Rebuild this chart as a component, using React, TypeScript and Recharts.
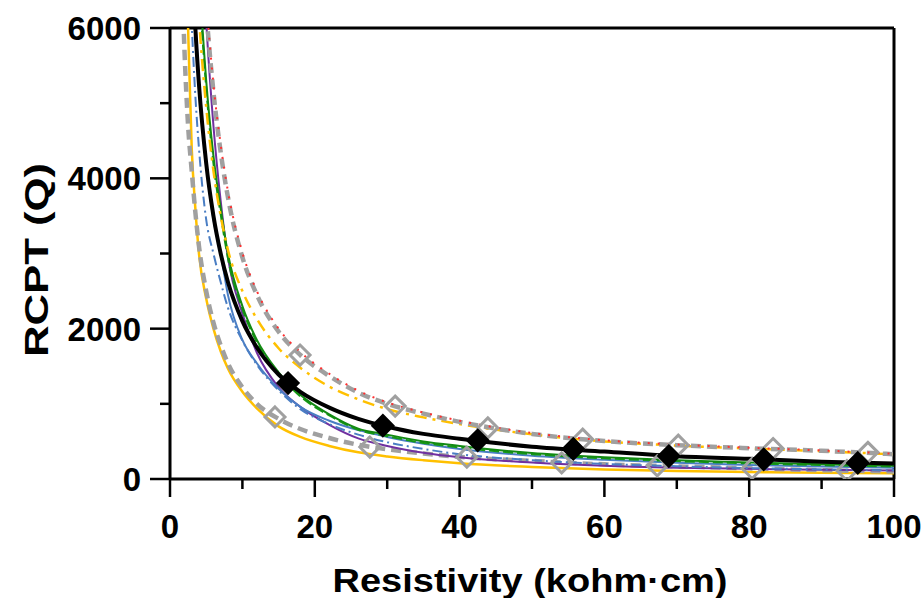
import React from "react";
import {
  ComposedChart, Line, Scatter, XAxis, YAxis, ReferenceLine,
} from "recharts";

// sample positions (kohm·cm) shared by every fitted curve
const curveX = [1.5, 2, 2.5, 3, 3.5, 4, 5, 6, 7, 8, 10, 12, 15, 18, 22, 26, 30, 35, 40, 50, 60, 70, 80, 90, 100];

// RCPT (Q) at curveX
const upperGray = [20000, 15500, 12400, 10400, 8900, 7800, 6250, 5150, 4350, 3750, 2950, 2450, 1960, 1650, 1370, 1150, 1000, 870, 760, 600, 505, 450, 410, 375, 330];
const redDot = [20500, 15800, 12700, 10600, 9100, 7950, 6400, 5250, 4450, 3830, 3010, 2500, 2000, 1690, 1400, 1175, 1020, 885, 775, 612, 515, 458, 416, 380, 336];
const orangeDashDot = [16000, 12000, 9700, 8100, 7000, 6150, 4950, 4100, 3500, 3050, 2500, 2130, 1740, 1480, 1230, 1060, 930, 820, 730, 595, 500, 445, 405, 370, 328];
const blackFit = [14000, 10500, 8400, 7000, 6000, 5250, 4200, 3500, 3000, 2620, 2100, 1750, 1390, 1160, 950, 800, 695, 600, 535, 430, 365, 302, 268, 230, 205];
const greenSolid = [20000, 14500, 11200, 9200, 7800, 6800, 5300, 4300, 3600, 3000, 2300, 1850, 1420, 1120, 860, 670, 590, 500, 440, 345, 290, 250, 220, 195, 175];
const greenDash = [19000, 14000, 10900, 9000, 7650, 6650, 5200, 4200, 3520, 2940, 2260, 1820, 1400, 1100, 845, 655, 570, 480, 420, 330, 275, 238, 208, 185, 165];
const blueSolid = [14500, 10800, 8600, 7100, 6100, 5300, 4200, 3450, 3000, 2450, 1850, 1540, 1200, 960, 775, 650, 560, 470, 400, 310, 255, 215, 185, 165, 150];
const blueDashDot = [12000, 9000, 7200, 6050, 5100, 4400, 3450, 3000, 2620, 2280, 1840, 1520, 1180, 930, 730, 590, 490, 400, 330, 250, 200, 170, 145, 128, 115];
const purpleSolid = [26000, 19000, 14500, 11800, 9800, 8300, 6100, 4700, 3700, 2950, 2200, 1680, 1220, 960, 720, 540, 440, 350, 290, 220, 175, 150, 135, 122, 112];
const yellowSolid = [11000, 7800, 6000, 4400, 3600, 3000, 2400, 2000, 1700, 1470, 1160, 940, 700, 560, 440, 355, 300, 250, 210, 160, 125, 105, 92, 82, 75];
const lowerGray = [7200, 5700, 4700, 4100, 3550, 3100, 2500, 2080, 1780, 1540, 1220, 1000, 800, 665, 545, 455, 395, 340, 295, 240, 195, 168, 142, 118, 100];

// marker positions
const upperMarkX = [17.96, 31.1, 43.9, 57, 70.2, 83.3, 96.4];
const upperMarkY = [1649, 970, 680, 530, 450, 405, 355];
const blackMarkX = [16.3, 29.4, 42.5, 55.7, 68.9, 82, 95];
const blackMarkY = [1277, 710, 515, 400, 305, 262, 213];
const lowerMarkX = [14.5, 27.6, 41, 54.1, 67.3, 80.4, 93.5];
const lowerMarkY = [825, 425, 290, 215, 175, 140, 110];

const yTicks = [0, 1000, 2000, 3000, 4000, 5000, 6000];
const xTicks = [0, 10, 20, 30, 40, 50, 60, 70, 80, 90, 100];

const pts = (xs: number[], ys: number[]) => xs.map((x, i) => ({ x, y: ys[i] }));

const FONT = "'Liberation Sans', Arial, sans-serif";

const YTick = (props: any) => {
  const { x, y, payload } = props;
  const major = payload.value % 2000 === 0;
  return (
    <g>
      <line x1={x - (major ? 20 : 10)} x2={x} y1={y} y2={y} stroke="#000" strokeWidth={2.5} />
      {major && (
        <text x={x - 29} y={y} dy="0.36em" textAnchor="end" fontFamily={FONT}
          fontWeight="bold" fontSize={33} fill="#000">{payload.value}</text>
      )}
    </g>
  );
};

const XTick = (props: any) => {
  const { x, y, payload } = props;
  const major = payload.value % 20 === 0;
  return (
    <g>
      <line x1={x} x2={x} y1={y} y2={y + (major ? 18 : 10)} stroke="#000" strokeWidth={2.5} />
      {major && (
        <text x={x} y={y + 59} textAnchor="middle" fontFamily={FONT}
          fontWeight="bold" fontSize={33} fill="#000">{payload.value}</text>
      )}
    </g>
  );
};

const Diamond = ({ cx, cy, fill, stroke }: any) => (
  <path d={`M${cx},${cy - 10}L${cx + 10},${cy}L${cx},${cy + 10}L${cx - 10},${cy}Z`}
    fill={fill} stroke={stroke} strokeWidth={3} />
);

const curve = (key: string, ys: number[], color: string, width: number, dash?: string) => (
  <Line key={key} data={pts(curveX, ys)} dataKey="y" type="monotone" stroke={color}
    strokeWidth={width} strokeDasharray={dash} dot={false} activeDot={false}
    isAnimationActive={false} />
);

export default function App() {
  return (
    <div style={{ position: "absolute", left: 0, top: 0, background: "#fff" }}>
      <ComposedChart width={924} height={598} margin={{ top: 28, right: 30, bottom: 89, left: 0 }}>
        <XAxis dataKey="x" type="number" domain={[0, 100]} ticks={xTicks} interval={0}
          tick={<XTick />} tickLine={false} tickSize={0} tickMargin={0} height={30}
          axisLine={{ stroke: "#000", strokeWidth: 3 }} />
        <YAxis dataKey="y" type="number" domain={[0, 6000]} ticks={yTicks} interval={0}
          allowDataOverflow width={170} tick={<YTick />} tickLine={false} tickSize={0}
          tickMargin={0} axisLine={{ stroke: "#000", strokeWidth: 3 }} />
        <ReferenceLine y={6000} stroke="#000" strokeWidth={3} />
        <ReferenceLine x={100} stroke="#000" strokeWidth={3} />
        {curve("yellow", yellowSolid, "#FFC000", 2.5)}
        {curve("lowerGray", lowerGray, "#A0A0A0", 4.5, "10 6")}
        {curve("purple", purpleSolid, "#7030A0", 2)}
        {curve("blueDD", blueDashDot, "#4A7EC4", 2, "10 4 2 4")}
        {curve("blue", blueSolid, "#4A7EC4", 2)}
        {curve("greenDash", greenDash, "#159A15", 2, "10 4")}
        {curve("green", greenSolid, "#138A13", 2)}
        {curve("orange", orangeDashDot, "#FFC000", 2.5, "12 6 3 6")}
        {curve("upperGray", upperGray, "#A0A0A0", 4.5, "10 6")}
        {curve("red", redDot, "#FF3030", 2, "2 8")}
        {curve("black", blackFit, "#000", 4)}
        <Scatter data={pts(upperMarkX, upperMarkY)} isAnimationActive={false}
          shape={(p: any) => <Diamond {...p} fill="none" stroke="#A0A0A0" />} />
        <Scatter data={pts(lowerMarkX, lowerMarkY)} isAnimationActive={false}
          shape={(p: any) => <Diamond {...p} fill="none" stroke="#A0A0A0" />} />
        <Scatter data={pts(blackMarkX, blackMarkY)} isAnimationActive={false}
          shape={(p: any) => <Diamond {...p} fill="#000" stroke="#000" />} />
        <text x={530} y={592} textAnchor="middle" fontFamily={FONT} fontWeight="bold"
          fontSize={33} textLength={395} lengthAdjust="spacingAndGlyphs"
          fill="#000">Resistivity (kohm·cm)</text>
        <text x={48} y={260} transform="rotate(-90 48 260)" textAnchor="middle"
          fontFamily={FONT} fontWeight="bold" fontSize={33} textLength={194}
          lengthAdjust="spacingAndGlyphs" fill="#000">RCPT (Q)</text>
      </ComposedChart>
    </div>
  );
}
